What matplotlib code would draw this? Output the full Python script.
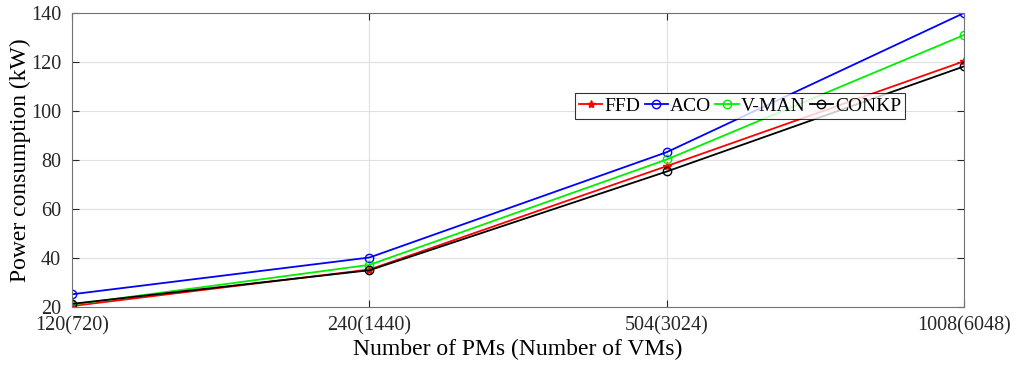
import numpy as np
import matplotlib
matplotlib.use('Agg')
import matplotlib.pyplot as plt

# 数据
categories = ['120(720)', '240(1440)', '504(3024)', '1008(6048)']
ffd = [20.4, 35.3, 77.5, 120.3]
aco = [25.2, 40.2, 83.2, 140.0]
vman = [21.0, 37.2, 80.2, 131.0]
conkp = [21.3, 35.0, 75.3, 118.2]

plt.rcParams['font.family'] = ['Liberation Serif', 'DejaVu Serif']
plt.rcParams['xtick.direction'] = 'in'
plt.rcParams['ytick.direction'] = 'in'

fig = plt.figure(figsize=(10.16, 3.69), dpi=100)
ax = fig.add_axes([0.071, 0.168, 0.878, 0.797])

x = np.arange(len(categories))
ax.plot(x, ffd, color='red', marker='*', markersize=6, lw=1.3, label='FFD')
ax.plot(x, aco, color='blue', marker='o', markersize=6, mfc='none', lw=1.3, label='ACO')
ax.plot(x, vman, color='#00ee00', marker='o', markersize=6, mfc='none', lw=1.3, label='V-MAN')
ax.plot(x, conkp, color='black', marker='o', markersize=6, mfc='none', lw=1.3, label='CONKP')

ax.set_xlim(0, 3)
ax.set_ylim(20, 140)
ax.set_xticks(x)
ax.set_xticklabels(categories)
ax.set_yticks(np.arange(20, 141, 20))
ax.tick_params(labelsize=14.5, colors='0.15', top=True, right=True, length=5)
ax.tick_params(axis='y', pad=8)
ax.tick_params(axis='x', pad=7)
ax.grid(True, color='0.88', lw=0.8)
for s in ax.spines.values():
    s.set_color('0.45')

ax.set_xlabel('Number of PMs (Number of VMs)', fontsize=17, labelpad=2)
ax.set_ylabel('Power consumption (kW)', fontsize=17, labelpad=0)

leg = ax.legend(ncol=4, loc='upper left', bbox_to_anchor=(0.564, 0.727), fontsize=14,
                frameon=True, fancybox=False, edgecolor='black', handlelength=1.2,
                handletextpad=0.12, columnspacing=0.2, borderpad=0.2, borderaxespad=0)
leg.get_frame().set_linewidth(0.8)

fig.savefig('out.png', dpi=100)
